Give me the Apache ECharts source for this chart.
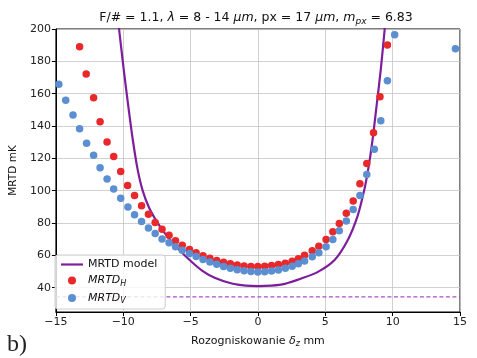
<!DOCTYPE html>
<html><head><meta charset="utf-8">
<script src="https://cdn.jsdelivr.net/npm/echarts@6/dist/echarts.min.js"></script>
<style>html,body{margin:0;padding:0;background:#fff}#c{width:477px;height:358px}</style>
</head><body><div id="c"></div>
<script>
const redX = [-13.24,-12.75,-12.20,-11.72,-11.20,-10.71,-10.19,-9.68,-9.16,-8.64,-8.13,-7.63,-7.12,-6.60,-6.12,-5.62,-5.08,-4.59,-4.08,-3.57,-3.06,-2.55,-2.05,-1.54,-1.03,-0.52,-0.01,0.50,1.01,1.52,2.03,2.54,3.00,3.46,4.03,4.52,5.06,5.56,6.04,6.56,7.07,7.57,8.08,8.58,9.06,9.61];
const redY = [189.0,172.2,157.5,142.6,130.2,121.2,111.9,103.3,97.1,90.7,85.5,80.4,76.1,72.5,69.0,66.3,63.7,61.6,59.8,58.2,56.8,55.7,54.8,54.0,53.5,53.2,53.1,53.3,53.7,54.3,55.2,56.4,58.0,60.1,62.8,65.7,69.9,74.6,79.8,86.0,93.6,104.3,116.9,135.8,158.1,190.1];
const blueX = [-14.78,-14.27,-13.73,-13.24,-12.72,-12.20,-11.72,-11.20,-10.71,-10.19,-9.65,-9.16,-8.64,-8.13,-7.63,-7.12,-6.60,-6.12,-5.62,-5.08,-4.59,-4.08,-3.57,-3.06,-2.55,-2.05,-1.54,-1.03,-0.52,-0.01,0.50,1.01,1.52,2.03,2.54,3.00,3.46,4.03,4.52,5.06,5.56,6.04,6.56,7.07,7.57,8.08,8.64,9.12,9.61,10.15,14.66];
const blueY = [165.8,155.9,146.8,138.3,129.3,122.0,114.2,107.2,101.0,95.4,90.0,85.1,81.0,76.9,73.6,70.2,67.8,65.3,63.2,61.2,59.3,57.5,55.9,54.5,53.2,52.1,51.2,50.5,50.0,49.8,49.9,50.3,51.0,52.0,53.3,54.8,56.6,59.1,61.6,65.3,69.9,75.2,81.2,88.4,97.1,110.1,125.6,143.3,168.0,196.5,187.8];
const modelX = [-10.50,-10.31,-9.95,-9.62,-9.30,-8.94,-8.57,-8.08,-7.46,-6.85,-6.12,-5.13,-4.15,-3.17,-1.94,-0.90,0.00,1.00,1.99,3.22,4.45,5.67,6.66,7.40,7.89,8.20,8.50,8.80,9.12,9.41,9.55];
const modelY = [214,200,174,152,132,113.5,100.4,89.5,80.3,73.0,66.0,57.6,50.6,46.0,42.6,41.3,41.0,41.3,42.4,45.7,49.8,57.0,69.4,84.5,100.4,114,131,152,175,200,213];
const limitX = [-15, 15];
const limitY = [34.3, 34.3];
const yTicks = [40,60,80,100,120,140,160,180,200];

const zip = (a, b) => a.map((v, i) => [v, b[i]]);
const FONT = '"DejaVu Sans", sans-serif';
const chart = echarts.init(document.getElementById('c'), null, {renderer: 'canvas'});
const subRich = {
  i: {fontStyle: 'italic', fontFamily: FONT, fontSize: 11, color: '#111', lineHeight: 14},
  s: {fontStyle: 'italic', fontFamily: FONT, fontSize: 8, color: '#111', lineHeight: 8, verticalAlign: 'bottom'},
  n: {fontFamily: FONT, fontSize: 11, color: '#111', lineHeight: 14}
};
chart.setOption({
  animation: false,
  backgroundColor: '#fff',
  grid: {left: 53, right: 17, top: 29, bottom: 46, show: true, borderColor: '#000', borderWidth: 1, backgroundColor: 'transparent'},
  xAxis: {
    type: 'value', min: -15, max: 15, interval: 5,
    axisLine: {show: true, onZero: false, lineStyle: {color: '#000', width: 1}},
    axisTick: {show: true, inside: false, length: 4, lineStyle: {color: '#000'}},
    axisLabel: {color: '#222', fontFamily: FONT, fontSize: 11, margin: 5, formatter: v => String(v).replace('-', '\u2212')},
    splitLine: {show: true, lineStyle: {color: '#c4c4c4', width: 0.8}},
    name: 'Rozogniskowanie {i|δ}{s|z} mm', nameLocation: 'middle', nameGap: 22,
    nameTextStyle: {fontFamily: FONT, fontSize: 11, color: '#111', rich: subRich}
  },
  yAxis: {
    type: 'value', min: 25, max: 200,
    axisLine: {show: true, onZero: false, lineStyle: {color: '#000', width: 1}},
    axisTick: {show: true, length: 4, lineStyle: {color: '#000'}, customValues: yTicks},
    axisLabel: {color: '#222', fontFamily: FONT, fontSize: 11, margin: 5, customValues: yTicks},
    splitLine: {show: true, lineStyle: {color: '#c4c4c4', width: 0.8}},
    name: 'MRTD mK', nameLocation: 'middle', nameGap: 33, nameRotate: 90,
    nameTextStyle: {fontFamily: FONT, fontSize: 10.5, color: '#111'}
  },
  legend: {
    left: 55, top: 255, orient: 'vertical', itemGap: 5, itemWidth: 22, itemHeight: 8,
    padding: [4, 8, 4, 6], backgroundColor: 'rgba(255,255,255,0.82)', borderColor: '#cccccc', borderWidth: 1, borderRadius: 3,
    textStyle: {fontFamily: FONT, fontSize: 11, color: '#111', rich: subRich},
    data: [
      {name: 'MRTD model', icon: 'path://M0,0 L22,0 L22,2.2 L0,2.2 Z'},
      {name: 'MRTD_H', icon: 'circle'},
      {name: 'MRTD_V', icon: 'circle'}
    ],
    formatter: n => n === 'MRTD_H' ? '{i|MRTD}{s|H}' : (n === 'MRTD_V' ? '{i|MRTD}{s|V}' : '{n|' + n + '}')
  },
  graphic: [
    {type: 'text', x: 256, y: 18, style: {
      text: 'F/# = 1.1, {i|λ} = 8 - 14 {i|μm}, px = 17 {i|μm}, {i|m}{s|px} = 6.83',
      fontFamily: FONT, fontSize: 12.5, fill: '#111', align: 'center', verticalAlign: 'middle',
      rich: {
        i: {fontStyle: 'italic', fontFamily: FONT, fontSize: 12.5, color: '#111', lineHeight: 16},
        s: {fontStyle: 'italic', fontFamily: FONT, fontSize: 9, color: '#111', lineHeight: 9, verticalAlign: 'bottom'}
      }
    }},
    {type: 'text', x: 7, y: 345, style: {text: 'b)', fontFamily: '"Liberation Serif", serif', fontSize: 24, fill: '#222', verticalAlign: 'middle'}}
  ],
  series: [
    {name: 'MRTD model', type: 'line', data: zip(modelX, modelY), showSymbol: false, smooth: 0.3, clip: true,
     lineStyle: {color: '#7d1f9c', width: 2.2}, itemStyle: {color: '#7d1f9c'}, z: 2},
    {name: 'limit', type: 'line', data: zip(limitX, limitY), showSymbol: false, clip: true,
     lineStyle: {color: '#a552c4', width: 1.3, type: [4, 2.5]}, z: 2},
    {name: 'MRTD_H', type: 'scatter', data: zip(redX, redY), symbolSize: 7.5, clip: true,
     itemStyle: {color: '#e8282b', opacity: 1}, z: 3},
    {name: 'MRTD_V', type: 'scatter', data: zip(blueX, blueY), symbolSize: 7.5, clip: true,
     itemStyle: {color: '#5b8fd2', opacity: 1}, z: 4}
  ]
});
</script>
</body></html>
